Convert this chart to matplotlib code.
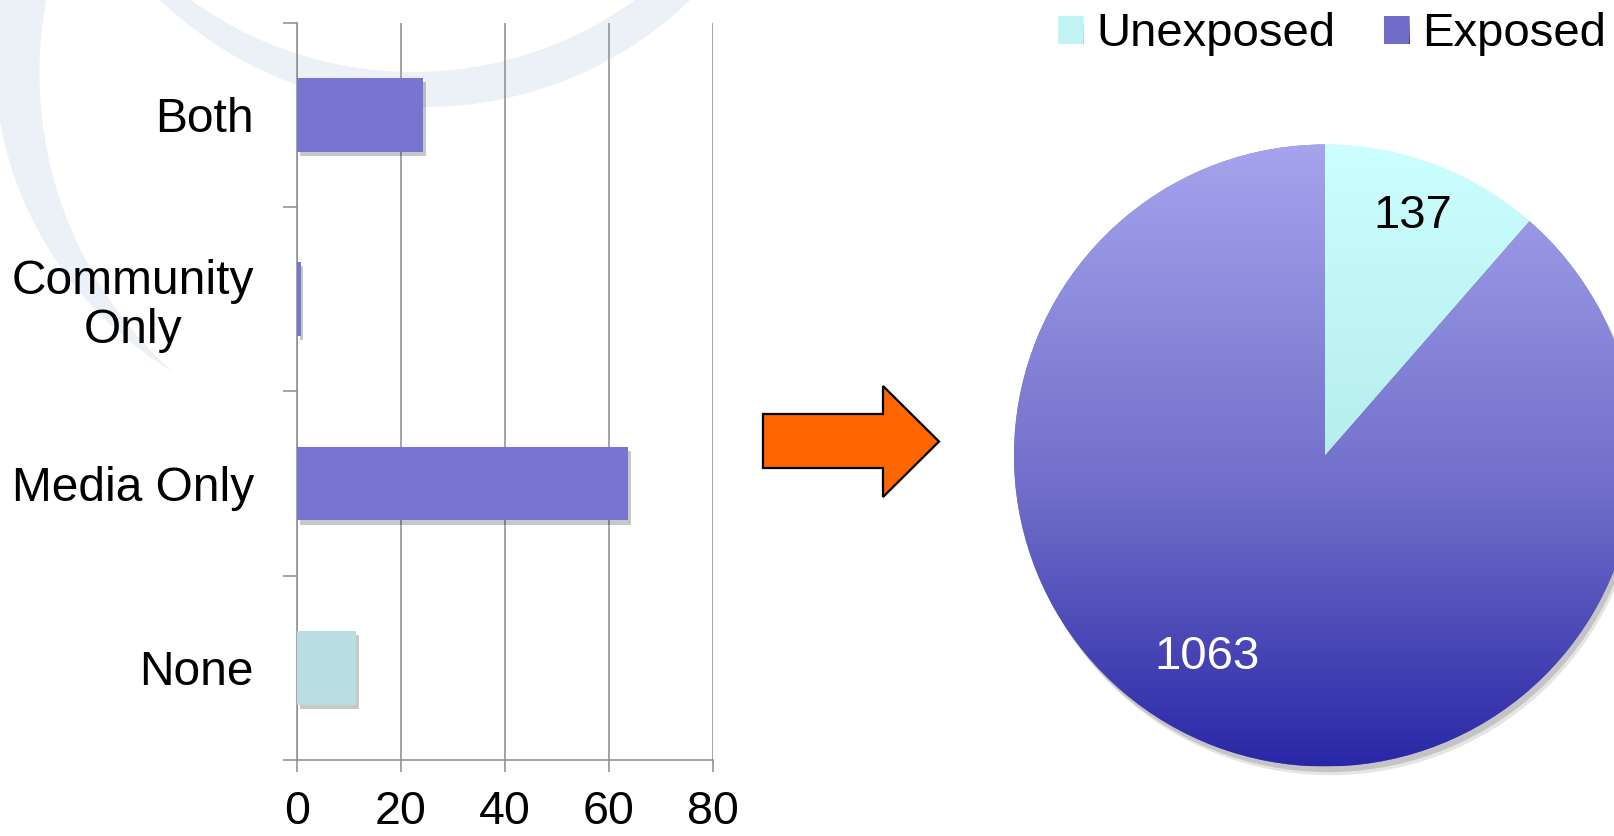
import numpy as np
import matplotlib
matplotlib.use('Agg')
import matplotlib.pyplot as plt
from matplotlib.patches import Polygon, Circle
from matplotlib.colors import LinearSegmentedColormap
import matplotlib.patheffects as pe

plt.rcParams['font.family'] = ['Liberation Sans', 'DejaVu Sans']

# ---------------- data ----------------
categories = ['Both', 'Community\nOnly', 'Media Only', 'None']
exposure_pct = [24.3, 0.7, 63.7, 11.4]
bar_colors = ['#7775CF', '#7775CF', '#7775CF', '#B9DEE2']
x_ticks = [0, 20, 40, 60, 80]

pie_labels = ['Unexposed', 'Exposed']
pie_counts = [137, 1063]

# ---------------- figure ----------------
W, H = 1614, 836
fig = plt.figure(figsize=(W / 100, H / 100), dpi=100)
fig.patch.set_facecolor('white')
gray = '#8C8C8C'

# background swooshes + arrow (pixel coordinates)
bg = fig.add_axes([0, 0, 1, 1], zorder=0)
bg.set_xlim(0, W)
bg.set_ylim(H, 0)
bg.axis('off')
swoosh = '#ECF0F7'
bg.add_patch(Circle((362, 56), 368, color=swoosh, lw=0))
bg.add_patch(Circle((441.5, 73), 402, color='white', lw=0))
bg.add_patch(Circle((425, -275), 382, color=swoosh, lw=0))
bg.add_patch(Circle((413, -306), 378, color='white', lw=0))

arrow_pts = [(763, 414), (883, 414), (883, 386), (939, 441.5), (883, 497),
             (883, 468), (763, 468)]
bg.add_patch(Polygon(arrow_pts, closed=True, facecolor='#FF6600',
                     edgecolor='black', lw=1.6, joinstyle='miter'))

# ---------------- bar chart ----------------
ax = fig.add_axes([297 / W, (H - 760) / H, (713 - 297) / W, (760 - 22.6) / H], zorder=1)
ax.set_facecolor('none')
ypos = np.arange(len(categories))
bars = ax.barh(ypos, exposure_pct, height=0.4, color=bar_colors, zorder=3)
for b in bars:
    b.set_path_effects([pe.SimplePatchShadow(offset=(2, -3), shadow_rgbFace='black', alpha=0.22),
                        pe.Normal()])
ax.set_xlim(0, 80)
ax.set_ylim(len(categories) - 0.5, -0.5)
ax.set_xticks(x_ticks)
ax.set_xticklabels([str(t) for t in x_ticks])
ax.set_yticks(ypos)
ax.set_yticklabels(categories)
ax.set_yticks(np.arange(-0.5, len(categories), 1.0), minor=True)
ax.tick_params(axis='y', which='major', length=0, pad=31, labelsize=34.5)
ax.tick_params(axis='y', which='minor', length=10, width=1.1, color=gray, direction='out')
ax.tick_params(axis='x', length=8.5, width=1.1, color=gray, labelsize=33.5, pad=13)
for lbl in ax.get_yticklabels():
    lbl.set_multialignment('center')
    lbl.set_linespacing(1.12)
ax.grid(axis='x', color=gray, lw=1.1)
ax.set_axisbelow(True)
for s in ['top', 'right']:
    ax.spines[s].set_visible(False)
for s in ['left', 'bottom']:
    ax.spines[s].set_color(gray)
    ax.spines[s].set_linewidth(1.1)

# ---------------- pie chart ----------------
cx, cy, r = 1325, 455.5, 311
pax = fig.add_axes([(cx - r) / W, (H - cy - r) / H, 2 * r / W, 2 * r / H], zorder=1)
wedges, _ = pax.pie(pie_counts, startangle=90, counterclock=False,
                    colors=['#C2F3F3', '#6F6DC8'], radius=1,
                    wedgeprops=dict(lw=0))
pax.set_aspect('equal')
pax.axis('off')

# soft shadow
for k, a in [(0.028, 0.10), (0.018, 0.14)]:
    pax.add_patch(Circle((k * 0.6, -k), 1.0, color='black', alpha=a, lw=0,
                         zorder=0.5, clip_on=False))

cmaps = [LinearSegmentedColormap.from_list('unexp', ['#A2DADA', '#B6EDED', '#CCFFFF']),
         LinearSegmentedColormap.from_list('exp', [(0, '#2A27A7'), (0.43, '#6F6DC8'),
                                                   (1, '#A6A4ED')])]
grad = np.linspace(1, 0, 256).reshape(-1, 1)
for w, cm in zip(wedges, cmaps):
    w.set_zorder(1)
    im = pax.imshow(grad, extent=(-1, 1, -1, 1), cmap=cm, vmin=0, vmax=1,
                    aspect='auto', origin='upper', zorder=2)
    im.set_clip_path(w)
pax.set_xlim(-1, 1)
pax.set_ylim(-1, 1)

pax.text(0.283, 0.77, str(pie_counts[0]), fontsize=34, ha='center', va='center',
         color='black', zorder=5)
pax.text(-0.379, -0.648, str(pie_counts[1]), fontsize=34, ha='center', va='center',
         color='white', zorder=5)

leg = fig.legend(handles=wedges, labels=pie_labels, loc='upper right',
                 bbox_to_anchor=(1606 / W, 1 - 12.5 / H), ncol=2, frameon=False,
                 fontsize=34, handlelength=0.53, handleheight=0.53,
                 handletextpad=0.28, columnspacing=1.02, borderpad=0,
                 borderaxespad=0)

# gradient fill on legend squares
fig.canvas.draw()
renderer = fig.canvas.get_renderer()
for h, cm in zip(leg.legend_handles, cmaps):
    bb = h.get_window_extent(renderer)
    lax = fig.add_axes([bb.x0 / W, bb.y0 / H, bb.width / W, bb.height / H], zorder=3)
    lax.imshow(grad, cmap=cm, vmin=0, vmax=1, aspect='auto',
               extent=(0, 1, 0, 1), origin='upper')
    lax.axis('off')

fig.savefig('out.png', dpi=100, facecolor='white')
